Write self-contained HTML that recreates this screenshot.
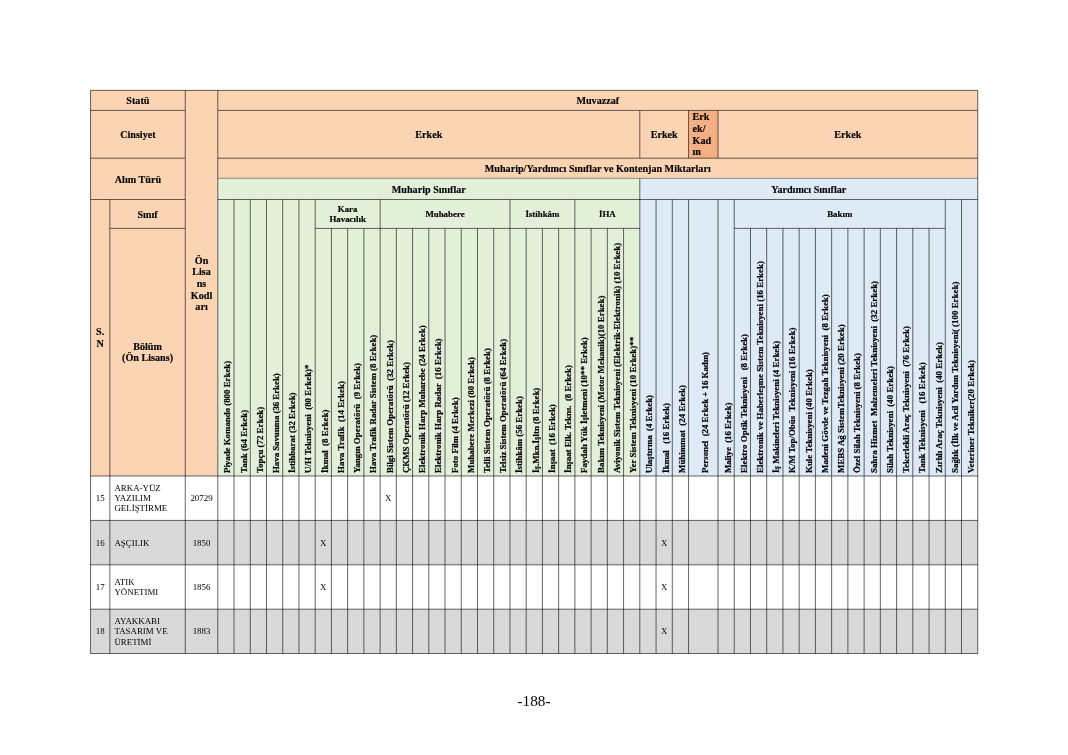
<!DOCTYPE html>
<html><head><meta charset="utf-8"><title>188</title>
<style>html,body{margin:0;padding:0;background:#fff;}body{width:1068px;height:755px;overflow:hidden;}
svg{display:block;will-change:transform;white-space:pre;font-family:"Liberation Serif",serif;fill:#000;}</style></head>
<body><svg width="1068" height="755" viewBox="0 0 1068 755">
<rect x="90.55" y="90.40" width="887.20" height="109.10" fill="#fbd4b4"/>
<rect x="90.55" y="90.40" width="127.25" height="385.60" fill="#fbd4b4"/>
<rect x="217.80" y="178.30" width="422.00" height="297.70" fill="#e2efd9"/>
<rect x="639.80" y="178.30" width="337.95" height="297.70" fill="#deeaf6"/>
<rect x="688.55" y="110.40" width="29.45" height="47.80" fill="#f4b083"/>
<rect x="90.55" y="520.40" width="887.20" height="44.40" fill="#d9d9d9"/>
<rect x="90.55" y="609.20" width="887.20" height="44.30" fill="#d9d9d9"/>
<g stroke="#000" stroke-width="0.6" fill="none">
<line x1="90.55" y1="90.40" x2="977.75" y2="90.40"/>
<line x1="90.55" y1="653.50" x2="977.75" y2="653.50"/>
<line x1="90.55" y1="90.40" x2="90.55" y2="653.50"/>
<line x1="977.75" y1="90.40" x2="977.75" y2="653.50"/>
<line x1="90.55" y1="110.40" x2="185.25" y2="110.40"/>
<line x1="90.55" y1="158.20" x2="185.25" y2="158.20"/>
<line x1="90.55" y1="199.50" x2="185.25" y2="199.50"/>
<line x1="109.85" y1="228.40" x2="185.25" y2="228.40"/>
<line x1="109.85" y1="199.50" x2="109.85" y2="653.50"/>
<line x1="185.25" y1="90.40" x2="185.25" y2="653.50"/>
<line x1="217.80" y1="90.40" x2="217.80" y2="653.50"/>
<line x1="217.80" y1="110.40" x2="977.75" y2="110.40"/>
<line x1="217.80" y1="158.20" x2="977.75" y2="158.20"/>
<line x1="217.80" y1="199.50" x2="977.75" y2="199.50"/>
<line x1="217.80" y1="178.30" x2="977.75" y2="178.30" stroke-width="0.4"/>
<line x1="639.80" y1="110.40" x2="639.80" y2="158.20"/>
<line x1="688.55" y1="110.40" x2="688.55" y2="158.20"/>
<line x1="718.00" y1="110.40" x2="718.00" y2="158.20"/>
<line x1="639.80" y1="178.30" x2="639.80" y2="653.50"/>
<line x1="315.18" y1="228.40" x2="639.80" y2="228.40"/>
<line x1="734.23" y1="228.40" x2="945.28" y2="228.40"/>
<line x1="234.03" y1="199.50" x2="234.03" y2="653.50"/>
<line x1="250.26" y1="199.50" x2="250.26" y2="653.50"/>
<line x1="266.49" y1="199.50" x2="266.49" y2="653.50"/>
<line x1="282.72" y1="199.50" x2="282.72" y2="653.50"/>
<line x1="298.95" y1="199.50" x2="298.95" y2="653.50"/>
<line x1="315.18" y1="199.50" x2="315.18" y2="653.50"/>
<line x1="331.42" y1="228.40" x2="331.42" y2="653.50"/>
<line x1="347.65" y1="228.40" x2="347.65" y2="653.50"/>
<line x1="363.88" y1="228.40" x2="363.88" y2="653.50"/>
<line x1="380.11" y1="199.50" x2="380.11" y2="653.50"/>
<line x1="396.34" y1="228.40" x2="396.34" y2="653.50"/>
<line x1="412.57" y1="228.40" x2="412.57" y2="653.50"/>
<line x1="428.80" y1="228.40" x2="428.80" y2="653.50"/>
<line x1="445.03" y1="228.40" x2="445.03" y2="653.50"/>
<line x1="461.26" y1="228.40" x2="461.26" y2="653.50"/>
<line x1="477.49" y1="228.40" x2="477.49" y2="653.50"/>
<line x1="493.72" y1="228.40" x2="493.72" y2="653.50"/>
<line x1="509.95" y1="199.50" x2="509.95" y2="653.50"/>
<line x1="526.18" y1="228.40" x2="526.18" y2="653.50"/>
<line x1="542.42" y1="228.40" x2="542.42" y2="653.50"/>
<line x1="558.65" y1="228.40" x2="558.65" y2="653.50"/>
<line x1="574.88" y1="199.50" x2="574.88" y2="653.50"/>
<line x1="591.11" y1="228.40" x2="591.11" y2="653.50"/>
<line x1="607.34" y1="228.40" x2="607.34" y2="653.50"/>
<line x1="623.57" y1="228.40" x2="623.57" y2="653.50"/>
<line x1="656.05" y1="199.50" x2="656.05" y2="653.50"/>
<line x1="672.30" y1="199.50" x2="672.30" y2="653.50"/>
<line x1="688.55" y1="199.50" x2="688.55" y2="653.50"/>
<line x1="718.00" y1="199.50" x2="718.00" y2="653.50"/>
<line x1="734.23" y1="199.50" x2="734.23" y2="653.50"/>
<line x1="750.47" y1="228.40" x2="750.47" y2="653.50"/>
<line x1="766.70" y1="228.40" x2="766.70" y2="653.50"/>
<line x1="782.94" y1="228.40" x2="782.94" y2="653.50"/>
<line x1="799.17" y1="228.40" x2="799.17" y2="653.50"/>
<line x1="815.41" y1="228.40" x2="815.41" y2="653.50"/>
<line x1="831.64" y1="228.40" x2="831.64" y2="653.50"/>
<line x1="847.88" y1="228.40" x2="847.88" y2="653.50"/>
<line x1="864.11" y1="228.40" x2="864.11" y2="653.50"/>
<line x1="880.34" y1="228.40" x2="880.34" y2="653.50"/>
<line x1="896.58" y1="228.40" x2="896.58" y2="653.50"/>
<line x1="912.81" y1="228.40" x2="912.81" y2="653.50"/>
<line x1="929.05" y1="228.40" x2="929.05" y2="653.50"/>
<line x1="945.28" y1="199.50" x2="945.28" y2="653.50"/>
<line x1="961.52" y1="199.50" x2="961.52" y2="653.50"/>
<line x1="90.55" y1="476.00" x2="977.75" y2="476.00"/>
<line x1="90.55" y1="520.40" x2="977.75" y2="520.40"/>
<line x1="90.55" y1="564.80" x2="977.75" y2="564.80"/>
<line x1="90.55" y1="609.20" x2="977.75" y2="609.20"/>
</g>
<text x="137.90" y="103.80" font-size="10.15" font-weight="bold" text-anchor="middle" stroke="#000" stroke-width="0.15">Statü</text>
<text x="137.90" y="137.70" font-size="10.15" font-weight="bold" text-anchor="middle" stroke="#000" stroke-width="0.15">Cinsiyet</text>
<text x="137.90" y="183.15" font-size="10.15" font-weight="bold" text-anchor="middle" stroke="#000" stroke-width="0.15">Alım Türü</text>
<text x="147.55" y="218.25" font-size="10.15" font-weight="bold" text-anchor="middle" stroke="#000" stroke-width="0.15">Sınıf</text>
<text x="147.55" y="349.50" font-size="10.15" font-weight="bold" text-anchor="middle" stroke="#000" stroke-width="0.15">Bölüm</text>
<text x="147.55" y="361.20" font-size="10.15" font-weight="bold" text-anchor="middle" stroke="#000" stroke-width="0.15">(Ön Lisans)</text>
<text x="100.20" y="335.30" font-size="10.15" font-weight="bold" text-anchor="middle" stroke="#000" stroke-width="0.15">S.</text>
<text x="100.20" y="347.00" font-size="10.15" font-weight="bold" text-anchor="middle" stroke="#000" stroke-width="0.15">N</text>
<text x="201.53" y="263.50" font-size="10.15" font-weight="bold" text-anchor="middle" stroke="#000" stroke-width="0.15">Ön</text>
<text x="201.53" y="275.20" font-size="10.15" font-weight="bold" text-anchor="middle" stroke="#000" stroke-width="0.15">Lisa</text>
<text x="201.53" y="286.90" font-size="10.15" font-weight="bold" text-anchor="middle" stroke="#000" stroke-width="0.15">ns</text>
<text x="201.53" y="298.60" font-size="10.15" font-weight="bold" text-anchor="middle" stroke="#000" stroke-width="0.15">Kodl</text>
<text x="201.53" y="310.30" font-size="10.15" font-weight="bold" text-anchor="middle" stroke="#000" stroke-width="0.15">arı</text>
<text x="597.77" y="103.80" font-size="10.15" font-weight="bold" text-anchor="middle" stroke="#000" stroke-width="0.15">Muvazzaf</text>
<text x="428.80" y="137.70" font-size="10.15" font-weight="bold" text-anchor="middle" stroke="#000" stroke-width="0.15">Erkek</text>
<text x="664.17" y="137.70" font-size="10.15" font-weight="bold" text-anchor="middle" stroke="#000" stroke-width="0.15">Erkek</text>
<text x="692.55" y="120.30" font-size="10.15" font-weight="bold" text-anchor="start" stroke="#000" stroke-width="0.15">Erk</text>
<text x="692.55" y="132.00" font-size="10.15" font-weight="bold" text-anchor="start" stroke="#000" stroke-width="0.15">ek/</text>
<text x="692.55" y="143.70" font-size="10.15" font-weight="bold" text-anchor="start" stroke="#000" stroke-width="0.15">Kad</text>
<text x="692.55" y="155.40" font-size="10.15" font-weight="bold" text-anchor="start" stroke="#000" stroke-width="0.15">ın</text>
<text x="847.88" y="137.70" font-size="10.15" font-weight="bold" text-anchor="middle" stroke="#000" stroke-width="0.15">Erkek</text>
<text x="597.77" y="171.65" font-size="10.15" font-weight="bold" text-anchor="middle" stroke="#000" stroke-width="0.15">Muharip/Yardımcı Sınıflar ve Kontenjan Miktarları</text>
<text x="428.80" y="193.20" font-size="10.15" font-weight="bold" text-anchor="middle" stroke="#000" stroke-width="0.15">Muharip Sınıflar</text>
<text x="808.77" y="193.20" font-size="10.15" font-weight="bold" text-anchor="middle" stroke="#000" stroke-width="0.15">Yardımcı Sınıflar</text>
<text x="347.65" y="211.85" font-size="8.88" font-weight="bold" text-anchor="middle" stroke="#000" stroke-width="0.15">Kara</text>
<text x="347.65" y="222.05" font-size="8.88" font-weight="bold" text-anchor="middle" stroke="#000" stroke-width="0.15">Havacılık</text>
<text x="445.03" y="216.95" font-size="8.88" font-weight="bold" text-anchor="middle" stroke="#000" stroke-width="0.15">Muhabere</text>
<text x="542.42" y="216.95" font-size="8.88" font-weight="bold" text-anchor="middle" stroke="#000" stroke-width="0.15">İstihkâm</text>
<text x="607.34" y="216.95" font-size="8.88" font-weight="bold" text-anchor="middle" stroke="#000" stroke-width="0.15">İHA</text>
<text x="839.76" y="216.95" font-size="8.88" font-weight="bold" text-anchor="middle" stroke="#000" stroke-width="0.15">Bakım</text>
<text transform="translate(230.30,473.00) rotate(-90)" font-size="8.88" font-weight="bold" stroke="#000" stroke-width="0.2" xml:space="preserve" letter-spacing="-0.020">Piyade Komando (800 Erkek)</text>
<text transform="translate(246.53,473.00) rotate(-90)" font-size="8.88" font-weight="bold" stroke="#000" stroke-width="0.2" xml:space="preserve" letter-spacing="0.057">Tank (64 Erkek)</text>
<text transform="translate(262.76,473.00) rotate(-90)" font-size="8.88" font-weight="bold" stroke="#000" stroke-width="0.2" xml:space="preserve">Topçu (72 Erkek)</text>
<text transform="translate(278.99,473.00) rotate(-90)" font-size="8.88" font-weight="bold" stroke="#000" stroke-width="0.2" xml:space="preserve" letter-spacing="-0.050">Hava Savunma (36 Erkek)</text>
<text transform="translate(295.22,473.00) rotate(-90)" font-size="8.88" font-weight="bold" stroke="#000" stroke-width="0.2" xml:space="preserve" letter-spacing="-0.015">İstihbarat (32 Erkek)</text>
<text transform="translate(311.45,473.00) rotate(-90)" font-size="8.88" font-weight="bold" stroke="#000" stroke-width="0.2" xml:space="preserve" letter-spacing="0.019">U/H Teknisyeni  (80 Erkek)*</text>
<text transform="translate(327.68,473.00) rotate(-90)" font-size="8.88" font-weight="bold" stroke="#000" stroke-width="0.2" xml:space="preserve">İkmal  (8 Erkek)</text>
<text transform="translate(343.92,473.00) rotate(-90)" font-size="8.88" font-weight="bold" stroke="#000" stroke-width="0.2" xml:space="preserve" letter-spacing="0.023">Hava Trafik  (14 Erkek)</text>
<text transform="translate(360.15,473.00) rotate(-90)" font-size="8.88" font-weight="bold" stroke="#000" stroke-width="0.2" xml:space="preserve">Yangın Operatörü  (9 Erkek)</text>
<text transform="translate(376.38,473.00) rotate(-90)" font-size="8.88" font-weight="bold" stroke="#000" stroke-width="0.2" xml:space="preserve">Hava Trafik Radar Sistem (8 Erkek)</text>
<text transform="translate(392.61,473.00) rotate(-90)" font-size="8.88" font-weight="bold" stroke="#000" stroke-width="0.2" xml:space="preserve">Bilgi Sistem Operatörü  (32 Erkek)</text>
<text transform="translate(408.84,473.00) rotate(-90)" font-size="8.88" font-weight="bold" stroke="#000" stroke-width="0.2" xml:space="preserve" letter-spacing="-0.050">ÇKMS Operatörü (12 Erkek)</text>
<text transform="translate(425.07,473.00) rotate(-90)" font-size="8.88" font-weight="bold" stroke="#000" stroke-width="0.2" xml:space="preserve">Elektronik Harp Muharebe (24 Erkek)</text>
<text transform="translate(441.30,473.00) rotate(-90)" font-size="8.88" font-weight="bold" stroke="#000" stroke-width="0.2" xml:space="preserve">Elektronik Harp Radar  (16 Erkek)</text>
<text transform="translate(457.53,473.00) rotate(-90)" font-size="8.88" font-weight="bold" stroke="#000" stroke-width="0.2" xml:space="preserve">Foto Film (4 Erkek)</text>
<text transform="translate(473.76,473.00) rotate(-90)" font-size="8.88" font-weight="bold" stroke="#000" stroke-width="0.2" xml:space="preserve">Muhabere Merkezi (80 Erkek)</text>
<text transform="translate(489.99,473.00) rotate(-90)" font-size="8.88" font-weight="bold" stroke="#000" stroke-width="0.2" xml:space="preserve">Telli Sistem Operatörü (8 Erkek)</text>
<text transform="translate(506.22,473.00) rotate(-90)" font-size="8.88" font-weight="bold" stroke="#000" stroke-width="0.2" xml:space="preserve">Telsiz Sistem Operatörü (64 Erkek)</text>
<text transform="translate(522.45,473.00) rotate(-90)" font-size="8.88" font-weight="bold" stroke="#000" stroke-width="0.2" xml:space="preserve">İstihkâm (56 Erkek)</text>
<text transform="translate(538.68,473.00) rotate(-90)" font-size="8.88" font-weight="bold" stroke="#000" stroke-width="0.2" xml:space="preserve">İş.Mkn.İşltn (8 Erkek)</text>
<text transform="translate(554.92,473.00) rotate(-90)" font-size="8.88" font-weight="bold" stroke="#000" stroke-width="0.2" xml:space="preserve">İnşaat  (16 Erkek)</text>
<text transform="translate(571.15,473.00) rotate(-90)" font-size="8.88" font-weight="bold" stroke="#000" stroke-width="0.2" xml:space="preserve" letter-spacing="-0.032">İnşaat Elk. Tekns.  (8 Erkek)</text>
<text transform="translate(587.38,473.00) rotate(-90)" font-size="8.88" font-weight="bold" stroke="#000" stroke-width="0.2" xml:space="preserve">Faydalı Yük İşletmeni (10** Erkek)</text>
<text transform="translate(603.61,473.00) rotate(-90)" font-size="8.88" font-weight="bold" stroke="#000" stroke-width="0.2" xml:space="preserve" letter-spacing="0.015">Bakım Teknisyeni (Motor Mekanik)(10 Erkek)</text>
<text transform="translate(619.84,473.00) rotate(-90)" font-size="8.88" font-weight="bold" stroke="#000" stroke-width="0.2" xml:space="preserve">Aviyonik Sistem Teknisyeni (Elektrik-Elektronik) (10 Erkek)</text>
<text transform="translate(636.07,473.00) rotate(-90)" font-size="8.88" font-weight="bold" stroke="#000" stroke-width="0.2" xml:space="preserve" letter-spacing="0.039">Yer Sistem Teknisyeni (10 Erkek)**</text>
<text transform="translate(652.32,473.00) rotate(-90)" font-size="8.88" font-weight="bold" stroke="#000" stroke-width="0.2" xml:space="preserve" letter-spacing="-0.032">Ulaştırma  (4 Erkek)</text>
<text transform="translate(668.57,473.00) rotate(-90)" font-size="8.88" font-weight="bold" stroke="#000" stroke-width="0.2" xml:space="preserve">İkmal   (16 Erkek)</text>
<text transform="translate(684.82,473.00) rotate(-90)" font-size="8.88" font-weight="bold" stroke="#000" stroke-width="0.2" xml:space="preserve">Mühimmat  (24 Erkek)</text>
<text transform="translate(707.67,473.00) rotate(-90)" font-size="8.88" font-weight="bold" stroke="#000" stroke-width="0.2" xml:space="preserve" letter-spacing="-0.030">Personel  (24 Erkek + 16 Kadın)</text>
<text transform="translate(730.52,473.00) rotate(-90)" font-size="8.88" font-weight="bold" stroke="#000" stroke-width="0.2" xml:space="preserve" letter-spacing="-0.053">Maliye  (16 Erkek)</text>
<text transform="translate(746.75,473.00) rotate(-90)" font-size="8.88" font-weight="bold" stroke="#000" stroke-width="0.2" xml:space="preserve" letter-spacing="0.017">Elektro Optik Teknisyeni   (8 Erkek)</text>
<text transform="translate(762.99,473.00) rotate(-90)" font-size="8.88" font-weight="bold" stroke="#000" stroke-width="0.2" xml:space="preserve">Elektronik ve Haberleşme Sistem Teknisyeni (16 Erkek)</text>
<text transform="translate(779.22,473.00) rotate(-90)" font-size="8.88" font-weight="bold" stroke="#000" stroke-width="0.2" xml:space="preserve">İş Makineleri Teknisyeni (4 Erkek)</text>
<text transform="translate(795.45,473.00) rotate(-90)" font-size="8.88" font-weight="bold" stroke="#000" stroke-width="0.2" xml:space="preserve" letter-spacing="0.018">K/M Top/Obüs  Teknisyeni (16 Erkek)</text>
<text transform="translate(811.69,473.00) rotate(-90)" font-size="8.88" font-weight="bold" stroke="#000" stroke-width="0.2" xml:space="preserve">Kule Teknisyeni (40 Erkek)</text>
<text transform="translate(827.92,473.00) rotate(-90)" font-size="8.88" font-weight="bold" stroke="#000" stroke-width="0.2" xml:space="preserve">Madeni Gövde ve Tezgah Teknisyeni  (8 Erkek)</text>
<text transform="translate(844.16,473.00) rotate(-90)" font-size="8.88" font-weight="bold" stroke="#000" stroke-width="0.2" xml:space="preserve">MEBS Ağ SistemTeknisyeni (20 Erkek)</text>
<text transform="translate(860.39,473.00) rotate(-90)" font-size="8.88" font-weight="bold" stroke="#000" stroke-width="0.2" xml:space="preserve">Özel Silah Teknisyeni (8 Erkek)</text>
<text transform="translate(876.63,473.00) rotate(-90)" font-size="8.88" font-weight="bold" stroke="#000" stroke-width="0.2" xml:space="preserve">Sahra Hizmet  Malzemeleri Teknisyeni  (32 Erkek)</text>
<text transform="translate(892.86,473.00) rotate(-90)" font-size="8.88" font-weight="bold" stroke="#000" stroke-width="0.2" xml:space="preserve">Silah Teknisyeni  (40 Erkek)</text>
<text transform="translate(909.10,473.00) rotate(-90)" font-size="8.88" font-weight="bold" stroke="#000" stroke-width="0.2" xml:space="preserve" letter-spacing="0.016">Tekerlekli Araç Teknisyeni  (76 Erkek)</text>
<text transform="translate(925.33,473.00) rotate(-90)" font-size="8.88" font-weight="bold" stroke="#000" stroke-width="0.2" xml:space="preserve" letter-spacing="0.048">Tank Teknisyeni   (16 Erkek)</text>
<text transform="translate(941.56,473.00) rotate(-90)" font-size="8.88" font-weight="bold" stroke="#000" stroke-width="0.2" xml:space="preserve" letter-spacing="0.018">Zırhlı Araç Teknisyeni  (40 Erkek)</text>
<text transform="translate(957.80,473.00) rotate(-90)" font-size="8.88" font-weight="bold" stroke="#000" stroke-width="0.2" xml:space="preserve" letter-spacing="0.012">Sağlık (İlk ve Acil Yardım Teknisyeni( (100 Erkek)</text>
<text transform="translate(974.03,473.00) rotate(-90)" font-size="8.88" font-weight="bold" stroke="#000" stroke-width="0.2" xml:space="preserve" letter-spacing="0.022">Veteriner Tekniker(20 Erkek)</text>
<text x="100.20" y="501.20" font-size="8.88" font-weight="normal" text-anchor="middle">15</text>
<text x="201.53" y="501.20" font-size="8.88" font-weight="normal" text-anchor="middle">20729</text>
<text x="114.45" y="491.00" font-size="8.88" font-weight="normal" text-anchor="start">ARKA-YÜZ</text>
<text x="114.45" y="501.20" font-size="8.88" font-weight="normal" text-anchor="start">YAZILIM</text>
<text x="114.45" y="511.40" font-size="8.88" font-weight="normal" text-anchor="start">GELİŞTİRME</text>
<text x="388.22" y="501.20" font-size="8.88" font-weight="normal" text-anchor="middle">X</text>
<text x="100.20" y="545.60" font-size="8.88" font-weight="normal" text-anchor="middle">16</text>
<text x="201.53" y="545.60" font-size="8.88" font-weight="normal" text-anchor="middle">1850</text>
<text x="114.45" y="545.60" font-size="8.88" font-weight="normal" text-anchor="start">AŞÇILIK</text>
<text x="323.30" y="545.60" font-size="8.88" font-weight="normal" text-anchor="middle">X</text>
<text x="664.17" y="545.60" font-size="8.88" font-weight="normal" text-anchor="middle">X</text>
<text x="100.20" y="590.00" font-size="8.88" font-weight="normal" text-anchor="middle">17</text>
<text x="201.53" y="590.00" font-size="8.88" font-weight="normal" text-anchor="middle">1856</text>
<text x="114.45" y="584.90" font-size="8.88" font-weight="normal" text-anchor="start">ATIK</text>
<text x="114.45" y="595.10" font-size="8.88" font-weight="normal" text-anchor="start">YÖNETIMI</text>
<text x="323.30" y="590.00" font-size="8.88" font-weight="normal" text-anchor="middle">X</text>
<text x="664.17" y="590.00" font-size="8.88" font-weight="normal" text-anchor="middle">X</text>
<text x="100.20" y="634.35" font-size="8.88" font-weight="normal" text-anchor="middle">18</text>
<text x="201.53" y="634.35" font-size="8.88" font-weight="normal" text-anchor="middle">1883</text>
<text x="114.45" y="624.15" font-size="8.88" font-weight="normal" text-anchor="start">AYAKKABI</text>
<text x="114.45" y="634.35" font-size="8.88" font-weight="normal" text-anchor="start">TASARIM VE</text>
<text x="114.45" y="644.55" font-size="8.88" font-weight="normal" text-anchor="start">ÜRETİMİ</text>
<text x="664.17" y="634.35" font-size="8.88" font-weight="normal" text-anchor="middle">X</text>
<text x="534.00" y="706.30" font-size="15.2" font-weight="normal" text-anchor="middle">-188-</text>
</svg></body></html>
